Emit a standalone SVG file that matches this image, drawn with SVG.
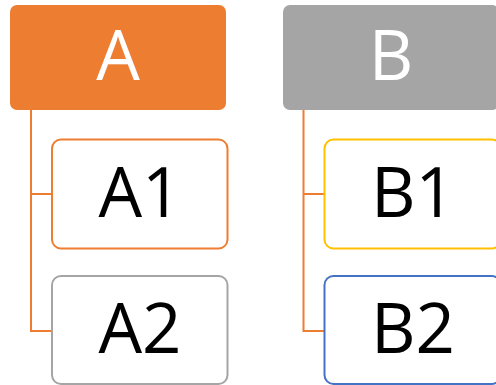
<svg xmlns="http://www.w3.org/2000/svg" width="496" height="385" viewBox="0 0 496 385">
<style>
.hdr{stroke:none}
.child{fill:#fff;stroke-width:2}
.conn{fill:none;stroke:#ED7D31;stroke-width:2}
.t{font-family:"Open Sans","Liberation Sans",sans-serif;font-size:69px;text-anchor:middle}
.w{fill:#fff}
.k{fill:#000}
</style>
<rect width="496" height="385" fill="#fff"/>
<g id="connectors">
<path class="conn" d="M31,110 V331 H52 M31,194 H52"/>
<path class="conn" d="M303.5,110 V331 H324.5 M303.5,194 H324.5"/>
</g>
<g id="A">
<rect class="hdr" x="10" y="5" width="216" height="105" rx="7" fill="#ED7D31"/>
<text class="t w" x="118" y="80">A</text>
</g>
<g id="A1">
<rect class="child" x="52" y="139.5" width="175.5" height="109" rx="9" stroke="#ED7D31"/>
<text class="t k" x="140" y="217">A1</text>
</g>
<g id="A2">
<rect class="child" x="52" y="276" width="175.5" height="108" rx="9" stroke="#A5A5A5"/>
<text class="t k" x="140" y="353">A2</text>
</g>
<g id="B">
<rect class="hdr" x="283" y="5" width="216" height="105" rx="7" fill="#A5A5A5"/>
<text class="t w" x="391" y="80">B</text>
</g>
<g id="B1">
<rect class="child" x="324.5" y="139.5" width="176" height="109" rx="9" stroke="#FFC000"/>
<text class="t k" x="413" y="217">B1</text>
</g>
<g id="B2">
<rect class="child" x="324.5" y="276" width="176" height="108" rx="9" stroke="#4472C4"/>
<text class="t k" x="413" y="353">B2</text>
</g>
</svg>
